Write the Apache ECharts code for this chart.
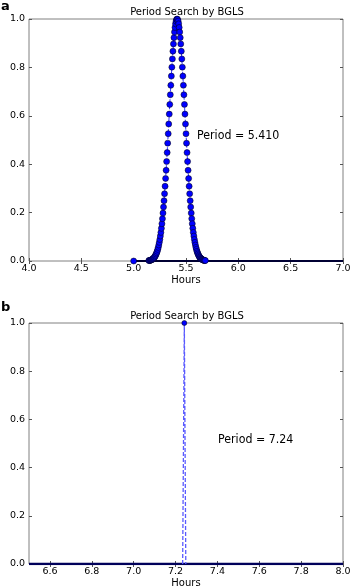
<!DOCTYPE html>
<html>
<head>
<meta charset="utf-8">
<script src="https://cdn.jsdelivr.net/npm/echarts@6/dist/echarts.min.js"></script>
<style>
  html, body { margin: 0; padding: 0; background: #fff; }
  #chart { width: 350px; height: 587px; }
</style>
</head>
<body>
<div id="chart"></div>
<script>
// panel a: BGLS probability peak around 5.41 h
const topHours = [
  5.145, 5.150, 5.155, 5.160, 5.165, 5.170, 5.175, 5.180, 5.185, 5.190,
  5.195, 5.200, 5.205, 5.210, 5.215, 5.220, 5.225, 5.230, 5.235, 5.240,
  5.245, 5.250, 5.255, 5.260, 5.265, 5.270, 5.275, 5.280, 5.285, 5.290,
  5.295, 5.300, 5.305, 5.310, 5.315, 5.320, 5.325, 5.330, 5.335, 5.340,
  5.345, 5.350, 5.355, 5.360, 5.365, 5.370, 5.375, 5.380, 5.385, 5.390,
  5.395, 5.400, 5.405, 5.410, 5.415, 5.420, 5.425, 5.430, 5.435, 5.440,
  5.445, 5.450, 5.455, 5.460, 5.465, 5.470, 5.475, 5.480, 5.485, 5.490,
  5.495, 5.500, 5.505, 5.510, 5.515, 5.520, 5.525, 5.530, 5.535, 5.540,
  5.545, 5.550, 5.555, 5.560, 5.565, 5.570, 5.575, 5.580, 5.585, 5.590,
  5.595, 5.600, 5.605, 5.610, 5.615, 5.620, 5.625, 5.630, 5.635, 5.640,
  5.645, 5.650, 5.655, 5.660, 5.665, 5.670, 5.675, 5.680, 5.685
];
const topProb = [
  0.002, 0.002, 0.002, 0.003, 0.004, 0.005, 0.006, 0.007, 0.009, 0.011,
  0.014, 0.016, 0.020, 0.024, 0.029, 0.034, 0.040, 0.048, 0.056, 0.066,
  0.077, 0.089, 0.103, 0.118, 0.135, 0.154, 0.175, 0.198, 0.223, 0.249,
  0.278, 0.309, 0.341, 0.375, 0.411, 0.448, 0.487, 0.526, 0.566, 0.607,
  0.647, 0.687, 0.726, 0.764, 0.801, 0.835, 0.867, 0.897, 0.923, 0.946,
  0.965, 0.980, 0.991, 0.998, 1.000, 0.998, 0.991, 0.980, 0.965, 0.946,
  0.923, 0.897, 0.867, 0.835, 0.801, 0.764, 0.726, 0.687, 0.647, 0.607,
  0.566, 0.526, 0.487, 0.448, 0.411, 0.375, 0.341, 0.309, 0.278, 0.249,
  0.223, 0.198, 0.175, 0.154, 0.135, 0.118, 0.103, 0.089, 0.077, 0.066,
  0.056, 0.048, 0.040, 0.034, 0.029, 0.024, 0.020, 0.016, 0.014, 0.011,
  0.009, 0.007, 0.006, 0.005, 0.004, 0.003, 0.002, 0.002, 0.002
];
const topBaseHours = [5.0, 7.0];
const topBaseProb = [0, 0];

// panel b: single sharp spike at 7.24 h
const bottomHours = [7.234, 7.242, 7.249];
const bottomProb = [0, 1, 0];
const bottomBaseHours = [6.5, 8.0];
const bottomBaseProb = [0, 0];

const topXTicks = [4.0, 4.5, 5.0, 5.5, 6.0, 6.5, 7.0];
const bottomXTicks = [6.6, 6.8, 7.0, 7.2, 7.4, 7.6, 7.8, 8.0];
const yTicks = [0.0, 0.2, 0.4, 0.6, 0.8, 1.0];

const titleText = 'Period Search by BGLS';
const topNote = 'Period = 5.410';
const bottomNote = 'Period = 7.24';

const FONT = 'DejaVu Sans';

const pairs = (xs, ys) => xs.map((x, i) => [x, ys[i]]);

function xAxes(gridIndex, min, max, ticks) {
  const common = {
    type: 'value', gridIndex, min, max,
    axisLine: { show: false },
    splitLine: { show: false },
    axisTick: { show: true, inside: true, length: 3, lineStyle: { color: '#555' }, customValues: ticks }
  };
  return [
    Object.assign({}, common, {
      position: 'bottom',
      name: 'Hours', nameLocation: 'middle', nameGap: 14,
      nameTextStyle: { fontFamily: FONT, fontSize: 10, color: '#000' },
      axisLabel: {
        show: true, margin: 3, fontFamily: FONT, fontSize: 9.5, color: '#000',
        customValues: ticks, formatter: v => v.toFixed(1)
      }
    }),
    Object.assign({}, common, { position: 'top', axisLabel: { show: false } })
  ];
}

function yAxes(gridIndex) {
  const common = {
    type: 'value', gridIndex, min: 0, max: 1,
    axisLine: { show: false },
    splitLine: { show: false },
    axisTick: { show: true, inside: true, length: 3, lineStyle: { color: '#555' }, customValues: yTicks }
  };
  return [
    Object.assign({}, common, {
      position: 'left',
      name: 'Probability', nameLocation: 'middle', nameGap: 18,
      nameTextStyle: { fontFamily: FONT, fontSize: 10, color: '#000' },
      axisLabel: {
        show: true, margin: 4, fontFamily: FONT, fontSize: 9.5, color: '#000',
        customValues: yTicks, formatter: v => v.toFixed(1)
      }
    }),
    Object.assign({}, common, { position: 'right', axisLabel: { show: false } })
  ];
}

const chart = echarts.init(document.getElementById('chart'), null, { renderer: 'canvas' });

const gridBase = {
  left: 29, right: 7, show: true, containLabel: false, outerBoundsMode: 'none',
  borderColor: '#808080', borderWidth: 1, backgroundColor: 'transparent'
};

// annotation text is slightly narrower than DejaVu in the source image
const note = (x, y, text) => ({
  type: 'text', x, y, scaleX: 0.92,
  style: { text, font: '12px "DejaVu Sans"', fill: '#000', verticalAlign: 'middle' }
});
const title = (y) => ({
  type: 'text', x: 187, y,
  style: { text: titleText, font: '10px "DejaVu Sans"', fill: '#000', align: 'center', verticalAlign: 'middle' }
});

chart.setOption({
  animation: false,
  backgroundColor: '#fff',
  grid: [
    Object.assign({}, gridBase, { top: 19, height: 242 }),
    Object.assign({}, gridBase, { top: 323, height: 241 })
  ],
  xAxis: [].concat(xAxes(0, 4.0, 7.0, topXTicks), xAxes(1, 6.5, 8.0, bottomXTicks)),
  yAxis: [].concat(yAxes(0), yAxes(1)),
  graphic: [
    { type: 'text', left: 1, top: 0, style: { text: 'a', font: 'bold 13px "DejaVu Sans"', fill: '#000' } },
    { type: 'text', left: 1, top: 301, style: { text: 'b', font: 'bold 13px "DejaVu Sans"', fill: '#000' } },
    title(12),
    title(316),
    note(197, 136, topNote),
    note(218, 440, bottomNote)
  ],
  series: [
    {
      type: 'line', xAxisIndex: 0, yAxisIndex: 0,
      data: pairs(topBaseHours, topBaseProb).map((p, i) => i === 0
        ? { value: p, symbol: 'circle', symbolSize: 6, itemStyle: { color: '#0000ff', borderColor: '#000', borderWidth: 0.5 } }
        : { value: p, symbol: 'none' }),
      symbol: 'none',
      lineStyle: { color: '#000033', width: 2.2 },
      z: 3
    },
    {
      type: 'line', xAxisIndex: 0, yAxisIndex: 0,
      data: pairs(topHours, topProb),
      symbol: 'circle', symbolSize: 6, showAllSymbol: true,
      itemStyle: { color: '#0000ff', borderColor: '#000', borderWidth: 0.5 },
      lineStyle: { color: '#3333ff', width: 1, type: 'dashed' },
      z: 4
    },
    {
      type: 'line', xAxisIndex: 2, yAxisIndex: 2,
      data: pairs(bottomBaseHours, bottomBaseProb),
      symbol: 'none',
      lineStyle: { color: '#00005a', width: 2.5 },
      z: 3
    },
    {
      type: 'line', xAxisIndex: 2, yAxisIndex: 2,
      data: pairs(bottomHours, bottomProb).map((p, i) => i === 1
        ? { value: p, symbol: 'circle', symbolSize: 5 }
        : { value: p, symbol: 'none' }),
      itemStyle: { color: '#0000ff', borderColor: '#000', borderWidth: 0.5 },
      lineStyle: { color: '#5a5aff', width: 1.3, type: [4, 2] },
      z: 4
    }
  ]
});
</script>
</body>
</html>
